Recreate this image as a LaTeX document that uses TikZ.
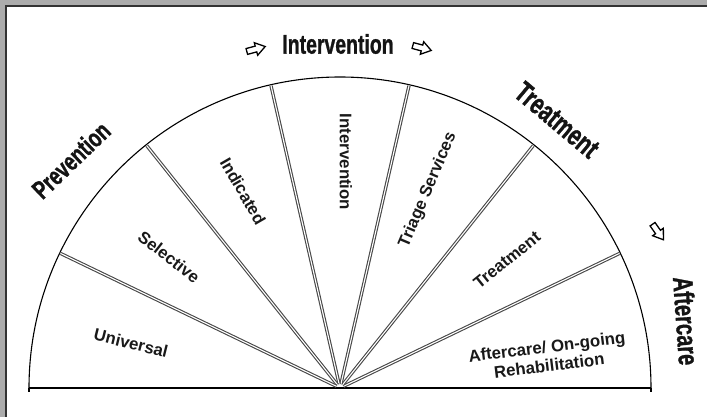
\documentclass[tikz,border=0pt]{standalone}
\usepackage{fontspec}
\setmainfont{Liberation Sans}
\newfontface\headface{Liberation Sans Bold}[FakeBold=1.2]
\usetikzlibrary{calc}
\newcommand{\headtxt}[2]{\scalebox{0.72}[1]{\fontsize{#1}{#1}\selectfont\headface #2}}
\begin{document}
\begin{tikzpicture}[x=1pt,y=1pt,
  heading/.style={text=black!92, inner sep=0pt},
  seclabel/.style={font=\bfseries\fontsize{16.8}{19}\selectfont, text=black!90, inner sep=0pt, align=center},
  spoke/.style={draw=black!72, line width=1.1pt, double=white, double distance=1.1pt},
  arrowshape/.style={draw=black, line width=1.3pt, fill=white, line join=miter}]
\useasboundingbox (0,0) rectangle (707,-417);
% frame
\fill[white] (-5,5) rectangle (712,-422);
\fill[gray!65] (-5,5) rectangle (712,-5);
\fill[gray!65] (-5,5) rectangle (4.5,-422);
\draw[black!80, line width=2pt] (5.5,-422) -- (5.5,-6.5) -- (712,-6.5);
% fan
\coordinate (C) at (340,-388);
\coordinate (L) at ($(C)+(180:311)$);
\coordinate (R) at ($(C)+(0:311)$);
\draw[line width=1.4pt] (L) -- (R);
\draw[line width=1.1pt] (L) arc (180:0:311);
\draw[line width=1.1pt] (L) -- ++(0,-4);
\draw[line width=1.1pt] (R) -- ++(0,-4);
\foreach \k in {1,...,6}{
  \draw[spoke] ($(C)+(\k*180/7:4)$) -- ($(C)+(\k*180/7:310)$);
}
% sector labels
\node[seclabel, rotate=-14] (universal) at (131,-343) {Universal};
\node[seclabel, rotate=-38] (selective) at (169,-257) {Selective};
\node[seclabel, rotate=-60] (indicated) at (243,-191) {Indicated};
\node[seclabel, rotate=-90] (intervention) at (346,-162) {Intervention};
\node[seclabel, rotate=67] (triage) at (428,-190) {Triage Services};
\node[seclabel, rotate=39] (treatment) at (507,-260) {Treatment};
\node[seclabel, rotate=7] (aftercare) at (548,-356) {Aftercare/ On-going\\Rehabilitation};
% headings
\node[heading] (hInt) at (338,-44) {\headtxt{27}{Intervention}};
\node[heading, rotate=44] (hPrev) at (71,-160) {\headtxt{26}{Prevention}};
\node[heading, rotate=-40] (hTreat) at (557,-120) {\headtxt{29}{Treatment}};
\node[heading, rotate=-86] (hAfter) at (686,-321) {\headtxt{28}{Aftercare}};
% hollow arrows
\foreach \p/\r in {{(256,-49)}/15, {(422,-48)}/-15, {(658,-232)}/-55}{
  \draw[arrowshape, shift={\p}, rotate=\r]
    (-9.5,-3) -- (0,-3) -- (0,-6.5) -- (9.5,0) -- (0,6.5) -- (0,3) -- (-9.5,3) -- cycle;
}
\end{tikzpicture}
\end{document}
